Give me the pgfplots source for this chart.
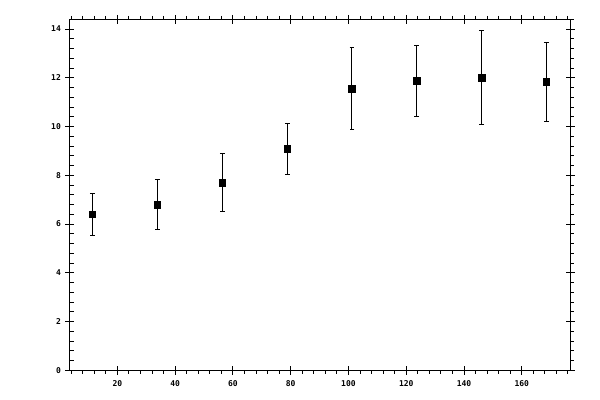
\documentclass[border=0pt]{standalone}
\usepackage{pgfplots}
\pgfplotsset{compat=1.18}
\usepackage{pgfplotstable}
\usepackage{fontspec}
\setmonofont{DejaVu Sans Mono}

\pgfplotstableread{
x      y      ep    em
11.3   6.41   0.84  0.88
33.8   6.80   1.03  1.02
56.3   7.70   1.18  1.17
78.8   9.10   1.01  1.07
101.2  11.56  1.68  1.68
123.6  11.89  1.45  1.48
146.1  12.01  1.92  1.93
168.5  11.84  1.60  1.64
}\scores

\pgfplotsset{
  frame/.style={
    scale only axis, width=500.6bp, height=351bp,
    at={(69.7bp,29.7bp)}, anchor=south west,
    xmin=3.5, xmax=176.8, ymin=0, ymax=14.4,
    axis line style={line width=1bp},
    every tick/.style={black, line width=1bp},
  },
}

\begin{document}
\begin{tikzpicture}
\useasboundingbox (0,0) rectangle (600bp,400bp);

% minor y ticks on the left, pointing in (drawn as short major ticks)
\begin{axis}[frame,
    tick align=inside, ytick pos=left,
    xtick=\empty, ytick={0,0.4,...,14.45},
    yticklabels={}, minor tick num=0,
    major tick length=4bp,
]
\end{axis}

% minor y ticks on the right and minor x ticks, pointing out
\begin{axis}[frame,
    tick align=outside, xtick pos=both, ytick pos=right,
    xtick={4,8,...,176}, ytick={0,0.4,...,14.45},
    xticklabels={}, yticklabels={}, minor tick num=0,
    major tick length=3.5bp,
]
\end{axis}

% main axis: data, labels, crossing major ticks
\begin{axis}[frame,
    tick align=center,
    major tick length=8.6bp,
    xtick={20,40,...,160}, ytick={0,2,...,14},
    minor tick num=0,
    xtick pos=both, ytick pos=both,
    ticklabel pos=lower,
    /pgf/number format/assume math mode=true,
    tick label style={font=\ttfamily\bfseries\fontsize{8bp}{9bp}\selectfont},
    xticklabel style={yshift=-2.5bp},
    yticklabel style={xshift=-1bp},
]
\addplot+[black, only marks, mark=square*, mark size=3.3bp,
    mark options={fill=black},
    error bars/.cd, y dir=both, y explicit,
    error bar style={line width=1bp},
    error mark options={rotate=90, mark size=2.4bp, line width=1bp}]
  table[x=x, y=y, y error plus=ep, y error minus=em] {\scores};
\end{axis}
\end{tikzpicture}
\end{document}
